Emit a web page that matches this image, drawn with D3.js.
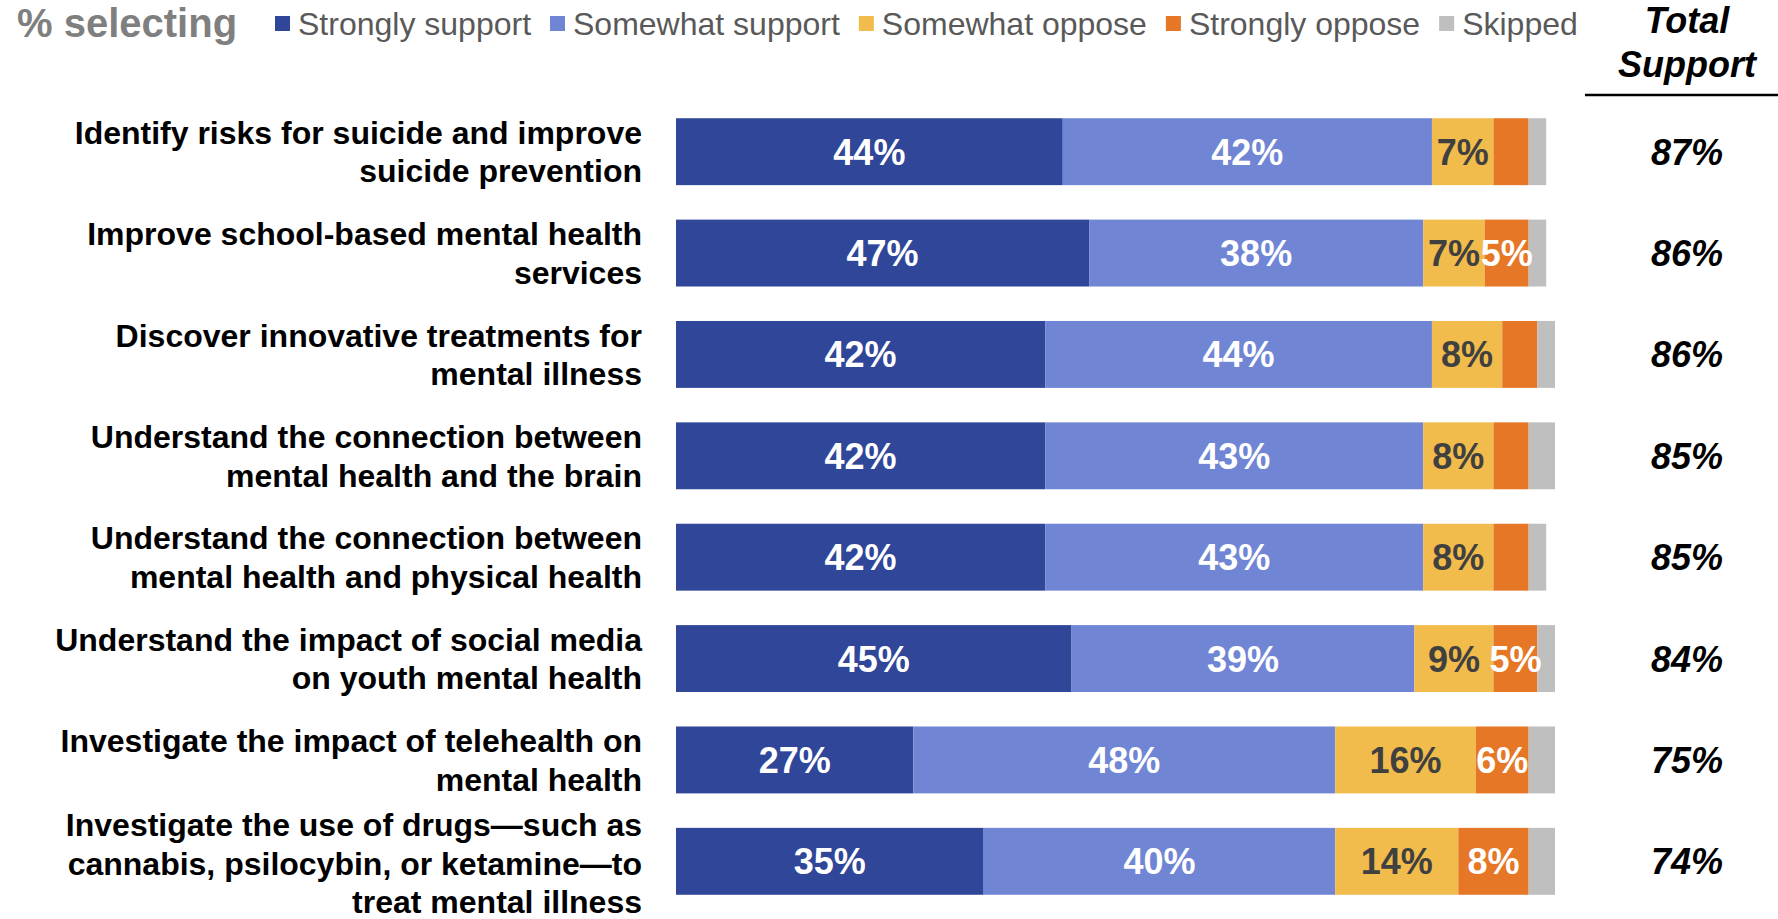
<!DOCTYPE html>
<html>
<head>
<meta charset="utf-8">
<script src="https://cdn.jsdelivr.net/npm/d3@7"></script>
<style>
  body { margin: 0; background: #fff; }
  svg { display: block; font-family: "Liberation Sans", Arial, sans-serif; }
</style>
</head>
<body>
<div id="chart"></div>
<script>
// categories (lines of each label)
const categories = [
  ["Identify risks for suicide and improve", "suicide prevention"],
  ["Improve school-based mental health", "services"],
  ["Discover innovative treatments for", "mental illness"],
  ["Understand the connection between", "mental health and the brain"],
  ["Understand the connection between", "mental health and physical health"],
  ["Understand the impact of social media", "on youth mental health"],
  ["Investigate the impact of telehealth on", "mental health"],
  ["Investigate the use of drugs\u2014such as", "cannabis, psilocybin, or ketamine\u2014to", "treat mental illness"]
];

const seriesNames = ["Strongly support", "Somewhat support", "Somewhat oppose", "Strongly oppose", "Skipped"];

// values per series, in category order
const stronglySupport = [44, 47, 42, 42, 42, 45, 27, 35];
const somewhatSupport = [42, 38, 44, 43, 43, 39, 48, 40];
const somewhatOppose  = [7, 7, 8, 8, 8, 9, 16, 14];
const stronglyOppose  = [4, 5, 4, 4, 4, 5, 6, 8];
const skipped         = [2, 2, 2, 3, 2, 2, 3, 3];
const totalSupport    = [87, 86, 86, 85, 85, 84, 75, 74];

const colors = ["#2f4699", "#7086d4", "#f1bc4b", "#e57726", "#bfbfbf"];
const labelColors = ["#ffffff", "#ffffff", "#404040", "#ffffff", null];

// set the dimensions
const width = 1778, height = 919;

const svg = d3.select("#chart").append("svg")
    .attr("width", width)
    .attr("height", height);

// build the table for the stack
const keys = ["ss", "sws", "swo", "so", "sk"];
const table = categories.map((c, i) => ({
  id: i,
  ss: stronglySupport[i], sws: somewhatSupport[i], swo: somewhatOppose[i],
  so: stronglyOppose[i], sk: skipped[i]
}));
const stacked = d3.stack().keys(keys)(table);

// set the ranges
const x = d3.scaleLinear().domain([0, 100]).range([676, 1555]);
const y = d3.scaleBand()
    .domain(table.map(d => d.id))
    .range([101, 912])
    .paddingInner(0.34)
    .paddingOuter(0.17);

// bars
const layers = svg.append("g").selectAll("g")
  .data(stacked)
  .enter().append("g")
    .attr("fill", (d, i) => colors[i]);

layers.selectAll("rect")
  .data(d => d)
  .enter().append("rect")
    .attr("x", d => x(d[0]))
    .attr("y", d => y(d.data.id))
    .attr("width", d => x(d[1]) - x(d[0]))
    .attr("height", y.bandwidth());

// value labels inside bars
stacked.forEach((layer, si) => {
  if (!labelColors[si]) return;
  svg.append("g").selectAll("text")
    .data(layer.filter(d => d[1] - d[0] >= 5))
    .enter().append("text")
      .attr("x", d => (x(d[0]) + x(d[1])) / 2)
      .attr("y", d => y(d.data.id) + y.bandwidth() / 2)
      .attr("dy", "0.36em")
      .attr("text-anchor", "middle")
      .attr("font-size", 36)
      .attr("font-weight", "bold")
      .attr("fill", labelColors[si])
      .text(d => (d[1] - d[0]) + "%");
});

// category labels
const lineH = 38.5;
svg.append("g").selectAll("text")
  .data(categories)
  .enter().append("text")
    .attr("text-anchor", "end")
    .attr("font-size", 32)
    .attr("font-weight", "bold")
    .attr("fill", "#000")
    .each(function(lines, i) {
      const cy = y(i) + y.bandwidth() / 2;
      const y0 = cy - (lines.length - 1) * lineH / 2 + (lines.length > 2 ? 2 : 0);
      d3.select(this).selectAll("tspan")
        .data(lines)
        .enter().append("tspan")
          .attr("x", 642)
          .attr("y", (l, j) => y0 + j * lineH)
          .attr("dy", "0.36em")
          .text(l => l);
    });

// total support column
svg.append("g").selectAll("text")
  .data(totalSupport)
  .enter().append("text")
    .attr("x", 1687)
    .attr("y", (d, i) => y(i) + y.bandwidth() / 2)
    .attr("dy", "0.36em")
    .attr("text-anchor", "middle")
    .attr("font-size", 36)
    .attr("font-weight", "bold")
    .attr("font-style", "italic")
    .text(d => d + "%");

const header = svg.append("text")
    .attr("text-anchor", "middle")
    .attr("font-size", 36)
    .attr("font-weight", "bold")
    .attr("font-style", "italic");
header.append("tspan").attr("x", 1687).attr("y", 33).text("Total");
header.append("tspan").attr("x", 1687).attr("y", 77).text("Support");

svg.append("line")
    .attr("x1", 1585).attr("x2", 1778)
    .attr("y1", 95).attr("y2", 95)
    .attr("stroke", "#000")
    .attr("stroke-width", 2.5);

// legend
svg.append("text")
    .attr("x", 17)
    .attr("y", 37)
    .attr("font-size", 40)
    .attr("font-weight", "bold")
    .attr("fill", "#7f7f7f")
    .text("% selecting");

let lx = 275;
seriesNames.forEach((name, i) => {
  svg.append("rect")
    .attr("x", lx).attr("y", 16)
    .attr("width", 15).attr("height", 15)
    .attr("fill", colors[i]);
  const t = svg.append("text")
    .attr("x", lx + 23)
    .attr("y", 35)
    .attr("font-size", 32)
    .attr("fill", "#595959")
    .text(name);
  lx += 23 + t.node().getComputedTextLength() + 19;
});
</script>
</body>
</html>
